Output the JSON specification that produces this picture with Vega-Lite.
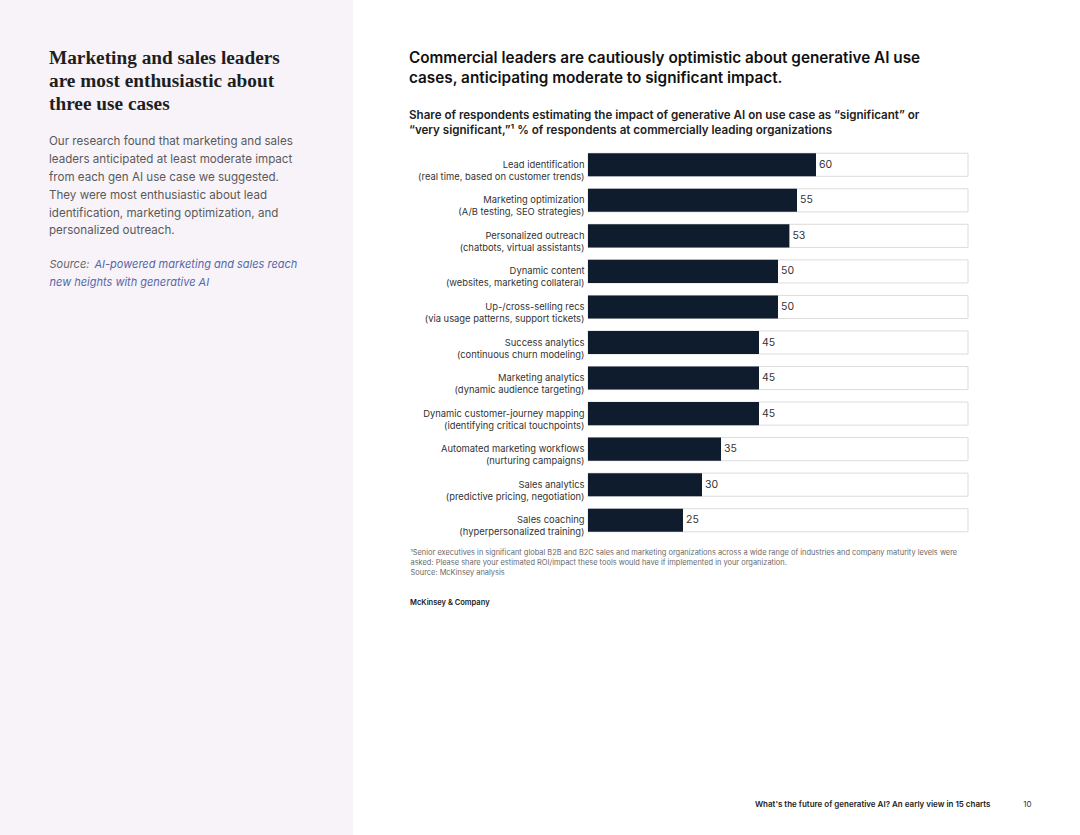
{
  "$schema": "https://vega.github.io/schema/vega-lite/v6.json",
  "padding": 0,
  "background": "#ffffff",
  "spacing": 56,
  "title": {
    "text": "What's the future of generative AI? An early view in 15 charts",
    "orient": "bottom",
    "anchor": "end",
    "frame": "bounds",
    "offset": -34,
    "dx": -41,
    "font": "Inter",
    "fontSize": 8,
    "fontWeight": 600,
    "color": "#222222"
  },
  "config": {
    "view": {"stroke": null},
    "font": "Inter"
  },
  "hconcat": [
    {
      "width": 353,
      "height": 835,
      "view": {"fill": "#f7f3f9", "stroke": null},
      "title": {
        "text": ["Marketing and sales leaders", "are most enthusiastic about", "three use cases"],
        "subtitle": [
          "Our research found that marketing and sales",
          "leaders anticipated at least moderate impact",
          "from each gen AI use case we suggested.",
          "They were most enthusiastic about lead",
          "identification, marketing optimization, and",
          "personalized outreach."
        ],
        "anchor": "start",
        "frame": "group",
        "orient": "top",
        "dx": 49,
        "offset": -237,
        "font": "Liberation Serif",
        "fontSize": 19.3,
        "fontWeight": "bold",
        "lineHeight": 23,
        "color": "#1e1e1e",
        "subtitleFont": "Inter",
        "subtitleFontSize": 11.6,
        "subtitleColor": "#5a5a5a",
        "subtitleLineHeight": 17.8,
        "subtitlePadding": 22
      },
      "resolve": {"axis": {"x": "independent"}},
      "layer": [
        {
          "data": {"values": [{"k": 0}]},
          "mark": {"type": "point", "opacity": 0},
          "encoding": {
            "x": {
              "field": "k",
              "type": "quantitative",
              "axis": {
                "orient": "bottom",
                "labels": false, "ticks": false, "domain": false, "grid": false,
                "title": "AI-powered marketing and sales reach",
                "titleColor": "#5567a8",
                "titleFont": "Inter",
                "titleFontSize": 11,
                "titleFontStyle": "italic",
                "titleFontWeight": "normal",
                "titleAlign": "left",
                "titleBaseline": "top",
                "titleX": 94,
                "titleY": -577
              }
            },
            "y": {
              "field": "k",
              "type": "quantitative",
              "axis": {
                "labels": false, "ticks": false, "domain": false, "grid": false,
                "minExtent": 0,
                "title": "Source:",
                "titleAngle": 0,
                "titleColor": "#666666",
                "titleFont": "Inter",
                "titleFontSize": 11,
                "titleFontStyle": "italic",
                "titleFontWeight": "normal",
                "titleAlign": "left",
                "titleBaseline": "top",
                "titleX": 49,
                "titleY": 258
              }
            }
          }
        },
        {
          "data": {"values": [{"k": 0}]},
          "mark": {"type": "point", "opacity": 0},
          "encoding": {
            "x": {
              "field": "k",
              "type": "quantitative",
              "axis": {
                "orient": "top",
                "labels": false, "ticks": false, "domain": false, "grid": false,
                "title": "new heights with generative AI",
                "titleColor": "#5567a8",
                "titleFont": "Inter",
                "titleFontSize": 11,
                "titleFontStyle": "italic",
                "titleFontWeight": "normal",
                "titleAlign": "left",
                "titleBaseline": "top",
                "titleX": 49,
                "titleY": 276
              }
            }
          }
        }
      ]
    },
    {
      "spacing": 22,
      "title": {
        "text": "10",
        "orient": "bottom",
        "anchor": "end",
        "frame": "bounds",
        "offset": 194,
        "dx": 63,
        "font": "Inter",
        "fontSize": 8,
        "fontWeight": "normal",
        "color": "#333333"
      },
      "vconcat": [
        {
          "width": 10,
          "height": 27.5,
          "data": {"values": []},
          "mark": {"type": "point", "opacity": 0}
        },
        {
          "width": 380,
          "height": 391,
          "title": {
            "text": ["Commercial leaders are cautiously optimistic about generative AI use", "cases, anticipating moderate to significant impact."],
            "subtitle": [
              "Share of respondents estimating the impact of generative AI on use case as \u201csignificant\u201d or",
              "\u201cvery significant,\u201d\u00b9 % of respondents at commercially leading organizations"
            ],
            "anchor": "start",
            "frame": "group",
            "orient": "top",
            "dx": -179,
            "offset": 10,
            "font": "Inter",
            "fontSize": 15.3,
            "fontWeight": 600,
            "lineHeight": 20.5,
            "color": "#111111",
            "subtitleFont": "Inter",
            "subtitleFontSize": 11.6,
            "subtitleFontWeight": 600,
            "subtitleColor": "#222222",
            "subtitleLineHeight": 15,
            "subtitlePadding": 24
          },
          "data": {
            "values": [
              {"use_case": "Lead identification|(real time, based on customer trends)", "value": 60},
              {"use_case": "Marketing optimization|(A/B testing, SEO strategies)", "value": 55},
              {"use_case": "Personalized outreach|(chatbots, virtual assistants)", "value": 53},
              {"use_case": "Dynamic content|(websites, marketing collateral)", "value": 50},
              {"use_case": "Up-/cross-selling recs|(via usage patterns, support tickets)", "value": 50},
              {"use_case": "Success analytics|(continuous churn modeling)", "value": 45},
              {"use_case": "Marketing analytics|(dynamic audience targeting)", "value": 45},
              {"use_case": "Dynamic customer-journey mapping|(identifying critical touchpoints)", "value": 45},
              {"use_case": "Automated marketing workflows|(nurturing campaigns)", "value": 35},
              {"use_case": "Sales analytics|(predictive pricing, negotiation)", "value": 30},
              {"use_case": "Sales coaching|(hyperpersonalized training)", "value": 25}
            ]
          },
          "encoding": {
            "y": {
              "field": "use_case",
              "type": "nominal",
              "sort": null,
              "scale": {"paddingInner": 0.35, "paddingOuter": 0.175},
              "axis": {
                "title": null,
                "ticks": false,
                "domain": false,
                "labelExpr": "split(datum.label, '|')",
                "labelFont": "Inter",
                "labelFontSize": 9.4,
                "labelColor": "#333333",
                "labelLineHeight": 12,
                "labelPadding": 4,
                "labelLimit": 300
              }
            }
          },
          "layer": [
            {
              "mark": {"type": "bar", "fill": "#ffffff", "stroke": "#dcdcdc", "strokeWidth": 1},
              "encoding": {
                "x": {
                  "datum": 100,
                  "type": "quantitative",
                  "scale": {"domain": [0, 100]},
                  "axis": {
                    "labels": false, "ticks": false, "domain": false, "grid": false,
                    "title": [
                      "\u00b9Senior executives in significant global B2B and B2C sales and marketing organizations across a wide range of industries and company maturity levels were",
                      "\u00a0asked: Please share your estimated ROI/impact these tools would have if implemented in your organization.",
                      "\u00a0Source: McKinsey analysis"
                    ],
                    "titleFont": "Inter",
                    "titleFontSize": 7.45,
                    "titleFontWeight": "normal",
                    "titleColor": "#6a6a6a",
                    "titleLineHeight": 10,
                    "titleAlign": "left",
                    "titleBaseline": "top",
                    "titleX": -178,
                    "titleY": 10
                  }
                }
              }
            },
            {
              "mark": {"type": "bar", "fill": "#0f1c2e"},
              "encoding": {
                "x": {"field": "value", "type": "quantitative"}
              }
            },
            {
              "mark": {"type": "text", "align": "left", "baseline": "middle", "dx": 3, "font": "Inter", "fontSize": 10.5, "color": "#333333"},
              "encoding": {
                "x": {"field": "value", "type": "quantitative"},
                "text": {"field": "value", "type": "quantitative"}
              }
            }
          ]
        },
        {
          "width": 10,
          "height": 1,
          "data": {"values": []},
          "mark": {"type": "point", "opacity": 0},
          "title": {
            "text": "McKinsey & Company",
            "anchor": "start",
            "frame": "group",
            "orient": "top",
            "dx": -178,
            "offset": 0,
            "font": "Inter",
            "fontSize": 7.5,
            "fontWeight": 600,
            "color": "#1a1a1a"
          }
        }
      ]
    }
  ]
}
